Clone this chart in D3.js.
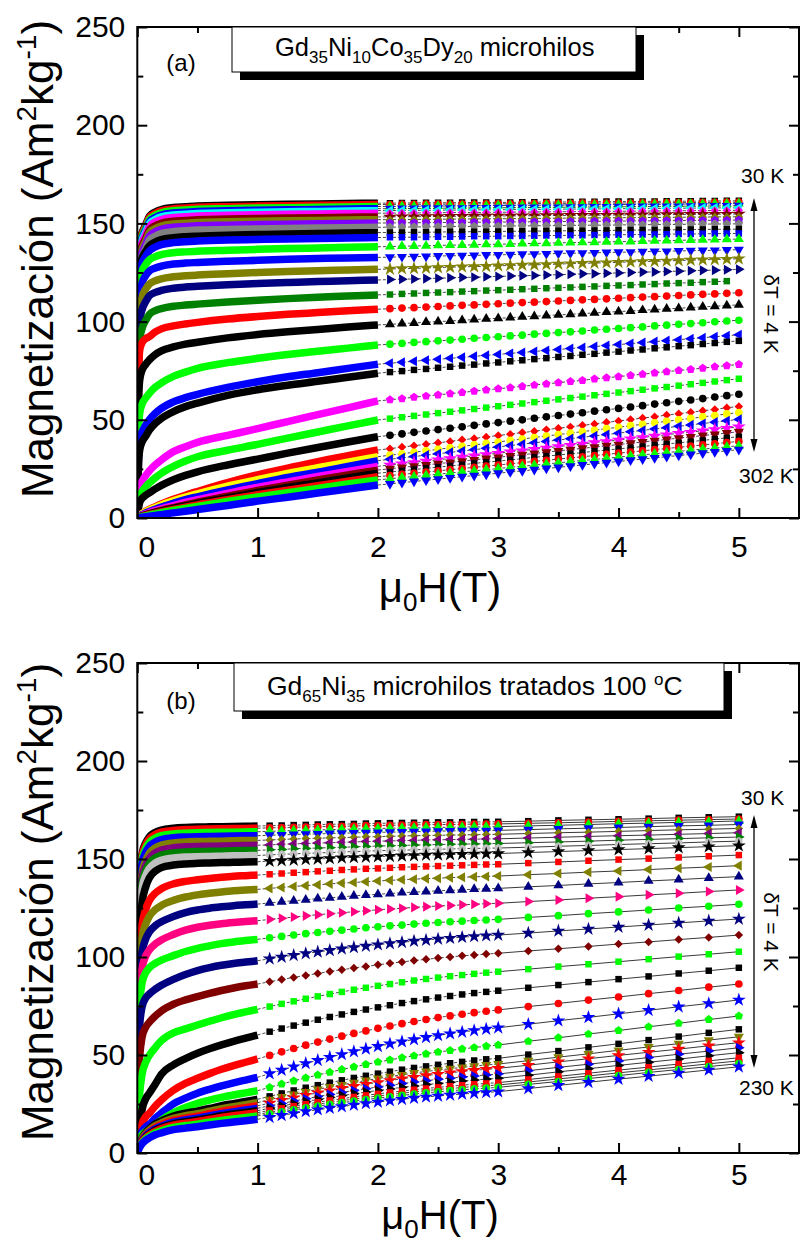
<!DOCTYPE html>
<html>
<head>
<meta charset="utf-8">
<script src="https://cdn.jsdelivr.net/npm/d3@7"></script>
<style>
  body { margin: 0; background: #fff; }
  text { font-family: "Liberation Sans", Arial, sans-serif; }
</style>
</head>
<body>
<svg id="chart"></svg>
<script>
const svg_w = 801, svg_h = 1243;

// ---- panel (a): Gd35Ni10Co35Dy20, 30 K .. 302 K ----
const fieldsLowA = [0, 0.01, 0.02, 0.04, 0.07, 0.1, 0.15, 0.2, 0.3, 0.4, 0.5, 0.75, 1, 1.25, 1.5, 1.75, 2];
const fieldsHighA = [2.1, 2.2, 2.3, 2.4, 2.5, 2.6, 2.7, 2.8, 2.9, 3.0, 3.1, 3.2, 3.3, 3.4, 3.5, 3.6, 3.7, 3.8, 3.9, 4.0, 4.1, 4.2, 4.3, 4.4, 4.5, 4.6, 4.7, 4.8, 4.9, 5.0];
const colorsA = ["#000000","#ff0000","#00ff00","#0000ff","#00ffff","#ff00ff","#800000","#808000","#8000ff","#808080","#000000","#0000ff","#00ff00","#0000ff","#808000","#000080","#008000","#ff0000","#000000","#00ff00","#0000ff","#000000","#ff00ff","#00ff00","#000000","#ff0000","#ffff00","#0000ff","#ff00ff","#800000","#000000","#ff0000","#00ff00","#0000ff"];
const shapesA = ["square","circle","up","down","left","diamond","star","diamond","hexagon","pentagon","square","square","up","down","star","right","square","circle","up","circle","left","square","pentagon","square","circle","diamond","circle","left","star","down","square","circle","up","down"];
const magLowA = [
  [0,125.3,141.3,145.3,149.3,153.6,155.8,157.1,158.1,158.5,158.9,159.2,159.5,159.7,159.9,160.1,160.3],
  [0,124.6,140.6,144.6,148.6,152.9,155.1,156.4,157.4,157.8,158.2,158.5,158.8,159.0,159.2,159.4,159.6],
  [0,123.6,139.6,143.6,147.6,151.9,154.1,155.4,156.4,156.8,157.2,157.5,157.8,158.0,158.2,158.4,158.6],
  [0,122.5,138.5,142.5,146.5,150.8,153.0,154.3,155.3,155.7,156.1,156.4,156.7,156.9,157.1,157.3,157.5],
  [0,121.5,137.5,141.5,145.5,149.8,152.0,153.3,154.3,154.7,155.1,155.4,155.7,155.9,156.1,156.3,156.5],
  [0,120.2,136.2,140.2,144.2,148.5,150.7,152.0,153.0,153.4,153.8,154.1,154.4,154.6,154.8,155.0,155.2],
  [0,118.3,134.3,138.3,142.3,146.6,148.8,150.1,151.1,151.5,151.9,152.2,152.5,152.7,152.9,153.1,153.3],
  [0,116.9,132.9,136.9,140.9,145.2,147.4,148.7,149.7,150.1,150.5,150.8,151.1,151.3,151.5,151.7,151.9],
  [0,115.2,131.2,135.2,139.2,143.5,145.7,147.0,148.0,148.4,148.8,149.1,149.4,149.6,149.8,150.0,150.2],
  [0,113.0,129.0,133.0,137.0,141.3,143.5,144.8,145.8,146.2,146.6,146.9,147.2,147.4,147.6,147.8,148.0],
  [0,112.3,127.3,132.3,135.8,138.5,140.5,141.7,142.7,143.2,143.5,144.0,144.3,144.6,144.8,145.1,145.3],
  [0,109.8,124.8,129.8,133.3,136.0,138.0,139.2,140.2,140.7,141.0,141.5,141.8,142.1,142.3,142.6,142.8],
  [0,105.1,120.1,125.6,129.1,131.4,133.1,134.1,135.1,135.5,135.8,136.3,136.8,137.2,137.5,137.8,138.1],
  [0,98.7,113.7,119.7,123.4,125.7,127.3,128.3,129.3,129.8,130.1,130.7,131.2,131.7,132.1,132.4,132.7],
  [0,90.6,106.6,112.6,116.6,119.1,120.8,121.8,122.8,123.3,123.7,124.4,125.0,125.5,125.9,126.3,126.6],
  [0,83.2,100.2,106.2,110.2,113.2,114.9,115.9,117.0,117.6,118.0,118.8,119.4,119.9,120.4,120.8,121.2],
  [0,73.6,90.6,96.6,100.6,103.6,105.6,106.6,107.8,108.4,108.9,110.0,110.9,111.7,112.4,113.0,113.6],
  [0,71.3,85.3,89.3,91.3,92.3,94.8,96.3,97.8,98.8,99.6,101.3,102.6,103.7,104.6,105.5,106.3],
  [0,58.3,70.3,75.3,78.3,80.5,83.3,85.1,87.1,88.5,89.5,91.7,93.4,94.8,96.0,97.2,98.3],
  [0,43.1,53.3,58.1,61.1,63.5,66.6,68.8,72.1,74.3,76.2,79.1,81.3,83.2,84.9,86.5,88.1],
  [0,30.3,40.3,43.8,47.3,50.0,53.3,55.8,59.1,61.3,63.0,66.5,69.4,71.9,74.0,76.2,78.3],
  [0,26.7,34.7,38.7,41.7,44.7,48.2,50.7,54.2,56.7,58.5,62.4,65.3,67.6,69.6,71.7,73.7],
  [0,9.6,15.0,18.6,21.6,24.0,27.1,29.6,33.8,36.3,38.5,42.1,45.5,49.1,52.6,56.1,59.6],
  [0,6.5,10.8,13.5,16.0,17.8,20.5,22.8,26.3,29.0,31.2,34.5,37.5,40.7,43.8,46.9,49.9],
  [0,5.0,8.0,10.0,11.6,12.8,14.8,16.6,19.5,21.7,23.5,27.0,30.0,33.0,35.9,38.7,41.4],
  [0,0.9,1.4,2.3,3.4,4.4,5.8,7.1,9.5,11.6,13.5,18.0,22.0,25.4,28.7,31.7,34.6],
  [0,0.8,1.3,2.2,3.2,4.1,5.4,6.6,8.7,10.6,12.3,16.2,19.5,22.7,25.6,28.4,31.2],
  [0,0.6,1.0,1.7,2.6,3.3,4.5,5.6,7.5,9.3,10.8,14.3,17.5,20.6,23.3,26.3,29.2],
  [0,0.5,0.8,1.4,2.1,2.8,3.8,4.7,6.3,7.9,9.3,12.5,15.6,18.4,21.1,23.7,26.3],
  [0,0.4,0.6,1.1,1.7,2.2,3.1,3.9,5.3,6.7,8.0,11.1,14.0,16.7,19.4,21.9,24.4],
  [0,0.3,0.6,1.0,1.5,2.0,2.8,3.5,4.9,6.1,7.4,10.2,13.0,15.5,17.9,20.4,22.8],
  [0,0.3,0.5,0.8,1.3,1.8,2.5,3.1,4.4,5.5,6.7,9.3,11.8,14.2,16.4,18.7,21.0],
  [0,0.2,0.4,0.7,1.1,1.5,2.1,2.7,3.8,4.9,5.9,8.4,10.7,12.9,15.1,17.3,19.4],
  [0,0.1,0.2,0.4,0.6,0.9,1.3,1.7,2.6,3.4,4.3,6.4,8.6,10.6,12.7,14.8,16.8]
];
const magHighA = [
  [160.3,160.4,160.4,160.5,160.5,160.5,160.6,160.6,160.7,160.7,160.7,160.8,160.8,160.9,160.9,160.9,161.0,161.0,161.1,161.1,161.1,161.2,161.2,161.3,161.3,161.3,161.4,161.4,161.5,161.5],
  [159.6,159.7,159.7,159.8,159.8,159.8,159.9,159.9,160.0,160.0,160.0,160.1,160.1,160.2,160.2,160.2,160.3,160.3,160.4,160.4,160.4,160.5,160.5,160.6,160.6,160.6,160.7,160.7,160.8,160.8],
  [158.6,158.7,158.7,158.8,158.8,158.9,158.9,159.0,159.0,159.1,159.1,159.2,159.2,159.3,159.3,159.4,159.4,159.5,159.5,159.6,159.6,159.7,159.7,159.8,159.8,159.9,159.9,160.0,160.0,160.1],
  [157.5,157.6,157.6,157.7,157.7,157.8,157.8,157.9,157.9,158.0,158.0,158.1,158.1,158.2,158.2,158.3,158.3,158.4,158.4,158.5,158.5,158.6,158.6,158.7,158.7,158.8,158.8,158.9,158.9,159.0],
  [156.5,156.6,156.6,156.7,156.7,156.8,156.8,156.9,156.9,157.0,157.0,157.1,157.1,157.2,157.2,157.3,157.3,157.4,157.4,157.5,157.5,157.6,157.6,157.7,157.7,157.8,157.8,157.9,157.9,158.0],
  [155.2,155.3,155.3,155.4,155.4,155.5,155.5,155.6,155.6,155.7,155.7,155.8,155.8,155.9,155.9,156.0,156.0,156.1,156.1,156.2,156.2,156.3,156.3,156.4,156.4,156.5,156.5,156.6,156.6,156.7],
  [153.3,153.4,153.4,153.5,153.5,153.6,153.6,153.7,153.7,153.8,153.8,153.9,153.9,154.0,154.0,154.1,154.1,154.2,154.2,154.3,154.3,154.4,154.4,154.5,154.5,154.6,154.6,154.7,154.7,154.8],
  [151.9,152.0,152.0,152.1,152.1,152.2,152.2,152.3,152.3,152.4,152.4,152.5,152.5,152.6,152.6,152.7,152.7,152.8,152.8,152.9,152.9,153.0,153.0,153.1,153.1,153.2,153.2,153.3,153.3,153.4],
  [150.2,150.3,150.3,150.4,150.4,150.5,150.5,150.6,150.6,150.7,150.7,150.8,150.8,150.9,150.9,151.0,151.0,151.1,151.1,151.2,151.2,151.3,151.3,151.4,151.4,151.5,151.5,151.6,151.6,151.7],
  [148.1,148.1,148.2,148.2,148.3,148.4,148.4,148.5,148.5,148.6,148.7,148.7,148.8,148.8,148.9,149.0,149.0,149.1,149.1,149.2,149.3,149.3,149.4,149.4,149.5,149.6,149.6,149.7,149.7,149.8],
  [145.4,145.4,145.5,145.5,145.6,145.7,145.7,145.8,145.8,145.9,146.0,146.0,146.1,146.1,146.2,146.3,146.3,146.4,146.4,146.5,146.6,146.6,146.7,146.7,146.8,146.9,146.9,147.0,147.0,147.1],
  [142.9,142.9,143.0,143.1,143.2,143.2,143.3,143.4,143.4,143.5,143.6,143.6,143.7,143.8,143.9,143.9,144.0,144.1,144.1,144.2,144.3,144.3,144.4,144.5,144.6,144.6,144.7,144.8,144.8,144.9],
  [138.2,138.4,138.5,138.6,138.8,138.9,139.0,139.1,139.3,139.4,139.5,139.7,139.8,139.9,140.1,140.2,140.3,140.4,140.6,140.7,140.8,141.0,141.1,141.2,141.4,141.5,141.6,141.7,141.9,142.0],
  [132.8,133.0,133.1,133.2,133.4,133.5,133.6,133.7,133.9,134.0,134.1,134.3,134.4,134.5,134.7,134.8,134.9,135.0,135.2,135.3,135.4,135.6,135.7,135.8,136.0,136.1,136.2,136.3,136.5,136.6],
  [126.8,127.0,127.1,127.3,127.5,127.7,127.9,128.0,128.2,128.4,128.6,128.8,128.9,129.1,129.3,129.5,129.7,129.8,130.0,130.2,130.4,130.6,130.7,130.9,131.1,131.3,131.5,131.6,131.8,132.0],
  [121.4,121.6,121.7,121.9,122.1,122.3,122.5,122.6,122.8,123.0,123.2,123.4,123.5,123.7,123.9,124.1,124.3,124.4,124.6,124.8,125.0,125.2,125.3,125.5,125.7,125.9,126.1,126.2,126.4,126.6],
  [113.8,114.1,114.3,114.6,114.8,115.0,115.3,115.5,115.8,116.0,116.2,116.5,116.7,117.0,117.2,117.4,117.7,117.9,118.2,118.4,118.6,118.9,119.1,119.4,119.6,119.8,120.1,120.3,120.6],
  [106.6,106.9,107.1,107.4,107.7,108.0,108.3,108.5,108.8,109.1,109.4,109.7,109.9,110.2,110.5,110.8,111.1,111.3,111.6,111.9,112.2,112.5,112.7,113.0,113.3,113.6,113.9,114.1,114.4,114.7],
  [98.6,99.0,99.3,99.7,100.0,100.3,100.7,101.0,101.4,101.7,102.0,102.4,102.7,103.1,103.4,103.7,104.1,104.4,104.8,105.1,105.4,105.8,106.1,106.5,106.8,107.1,107.5,107.8,108.2,108.5],
  [88.5,88.9,89.4,89.8,90.2,90.6,91.0,91.5,91.9,92.3,92.7,93.1,93.6,94.0,94.4,94.8,95.2,95.7,96.1,96.5,96.9,97.3,97.8,98.2,98.6,99.0,99.4,99.9,100.3,100.7],
  [78.8,79.3,79.8,80.3,80.8,81.3,81.8,82.3,82.8,83.3,83.8,84.3,84.8,85.3,85.8,86.3,86.8,87.3,87.8,88.3,88.8,89.3,89.8,90.3,90.8,91.3,91.8,92.3,92.8,93.3],
  [74.3,74.8,75.4,75.9,76.5,77.0,77.6,78.1,78.7,79.2,79.8,80.3,80.9,81.4,82.0,82.5,83.1,83.6,84.2,84.7,85.3,85.8,86.4,86.9,87.5,88.0,88.6,89.1,89.7,90.2],
  [60.2,60.8,61.5,62.1,62.7,63.3,63.9,64.6,65.2,65.8,66.4,67.0,67.7,68.3,68.9,69.5,70.1,70.8,71.4,72.0,72.6,73.2,73.9,74.5,75.1,75.7,76.3,77.0,77.6,78.2],
  [50.6,51.3,52.0,52.7,53.4,54.1,54.8,55.5,56.2,56.9,57.6,58.3,59.0,59.7,60.4,61.1,61.8,62.5,63.2,63.9,64.6,65.3,66.0,66.7,67.4,68.1,68.8,69.5,70.2,70.9],
  [42.1,42.8,43.6,44.3,45.0,45.7,46.4,47.2,47.9,48.6,49.3,50.0,50.8,51.5,52.2,52.9,53.6,54.4,55.1,55.8,56.5,57.2,58.0,58.7,59.4,60.1,60.8,61.6,62.3,63.0],
  [35.3,36.1,36.8,37.6,38.3,39.0,39.8,40.5,41.3,42.0,42.7,43.5,44.2,45.0,45.7,46.4,47.2,47.9,48.7,49.4,50.1,50.9,51.6,52.4,53.1,53.8,54.6,55.3,56.1,56.8],
  [32.0,32.7,33.5,34.2,35.0,35.7,36.5,37.2,38.0,38.7,39.5,40.2,41.0,41.7,42.5,43.2,44.0,44.7,45.5,46.2,47.0,47.7,48.5,49.2,50.0,50.7,51.5,52.2,53.0,53.7],
  [29.9,30.6,31.3,32.0,32.7,33.4,34.1,34.8,35.5,36.2,36.9,37.6,38.3,39.0,39.7,40.4,41.1,41.8,42.5,43.2,43.9,44.6,45.3,46.0,46.7,47.4,48.1,48.8,49.5,50.2],
  [27.0,27.6,28.3,29.0,29.7,30.3,31.0,31.7,32.3,33.0,33.7,34.3,35.0,35.7,36.4,37.0,37.7,38.4,39.0,39.7,40.4,41.0,41.7,42.4,43.1,43.7,44.4,45.1,45.7,46.4],
  [25.1,25.7,26.4,27.0,27.7,28.3,29.0,29.6,30.3,30.9,31.6,32.2,32.9,33.5,34.2,34.8,35.5,36.1,36.8,37.4,38.1,38.7,39.4,40.0,40.7,41.3,42.0,42.6,43.3,43.9],
  [23.4,24.0,24.7,25.3,25.9,26.5,27.1,27.8,28.4,29.0,29.6,30.2,30.9,31.5,32.1,32.7,33.3,34.0,34.6,35.2,35.8,36.4,37.1,37.7,38.3,38.9,39.5,40.2,40.8,41.4],
  [21.6,22.2,22.8,23.4,24.0,24.6,25.2,25.8,26.4,27.0,27.6,28.2,28.8,29.4,30.0,30.6,31.2,31.8,32.4,33.0,33.6,34.2,34.8,35.4,36.0,36.6,37.2,37.8,38.4,39.0],
  [20.0,20.6,21.1,21.7,22.3,22.9,23.5,24.0,24.6,25.2,25.8,26.4,26.9,27.5,28.1,28.7,29.3,29.8,30.4,31.0,31.6,32.2,32.7,33.3,33.9,34.5,35.1,35.6,36.2,36.8],
  [17.4,18.0,18.6,19.2,19.8,20.4,21.0,21.6,22.2,22.8,23.4,24.0,24.6,25.2,25.8,26.4,27.0,27.6,28.2,28.8,29.4,30.0,30.6,31.2,31.8,32.4,33.0,33.6,34.2,34.8]
];

// ---- panel (b): Gd65Ni35 tratado 100 C, 30 K .. 230 K ----
const fieldsLowB = [0, 0.01, 0.02, 0.04, 0.07, 0.1, 0.15, 0.2, 0.3, 0.4, 0.5, 0.6, 0.7, 0.8, 0.9, 1.0];
const fieldsMidB = [1.1, 1.2, 1.3, 1.4, 1.5, 1.6, 1.7, 1.8, 1.9, 2.0, 2.1, 2.2, 2.3, 2.4, 2.5, 2.6, 2.7, 2.8, 2.9, 3.0];
const fieldsHighB = [3.25, 3.5, 3.75, 4.0, 4.25, 4.5, 4.75, 5.0];
const colorsB = ["#000000","#ff0000","#00ff00","#0000ff","#808000","#800080","#008000","#c0c0c0","#000000","#ff0000","#808000","#000080","#ff0080","#00ff00","#000080","#800000","#00ff00","#000000","#ff0000","#0000ff","#00ff00","#000000","#808000","#ff0000","#0000ff","#000000","#ff0000","#ff0000","#00ff00","#0000ff"];
const shapesB = ["square","circle","up","down","diamond","left","right","hexagon","star","square","left","up","right","circle","star","diamond","square","square","circle","star","pentagon","square","down","star","right","right","square","circle","circle","star"];
const magLowB = [
  [0,126.8,142.8,152.8,158.3,161.3,163.6,164.8,165.7,166.1,166.3,166.4,166.5,166.6,166.7,166.8],
  [0,125.7,141.7,151.7,157.2,160.2,162.5,163.7,164.6,165.0,165.2,165.3,165.4,165.5,165.6,165.7],
  [0,123.9,139.9,149.9,155.4,158.4,160.7,161.9,162.8,163.2,163.4,163.5,163.6,163.7,163.8,163.9],
  [0,121.9,137.9,147.9,153.4,156.4,158.7,159.9,160.8,161.2,161.4,161.5,161.6,161.7,161.8,161.9],
  [0,111.5,130.7,142.7,149.3,152.9,155.7,157.1,158.2,158.7,158.9,159.0,159.1,159.3,159.4,159.5],
  [0,109.0,128.2,140.2,146.8,150.4,153.2,154.6,155.7,156.2,156.4,156.5,156.6,156.8,156.9,157.0],
  [0,106.4,125.6,137.6,144.2,147.8,150.6,152.0,153.1,153.6,153.8,153.9,154.0,154.2,154.3,154.4],
  [0,103.8,123.0,135.0,141.6,145.2,148.0,149.4,150.5,151.0,151.2,151.3,151.4,151.6,151.7,151.8],
  [0,93.6,112.6,127.6,135.8,140.3,143.8,145.6,146.9,147.5,147.8,148.0,148.2,148.3,148.5,148.6],
  [0,86.8,105.8,116.8,124.3,128.8,132.6,134.8,137.3,138.6,139.4,140.1,140.7,141.2,141.5,141.8],
  [0,82.5,99.5,110.0,116.8,120.7,124.2,126.3,128.9,130.6,131.7,132.5,133.2,133.8,134.2,134.5],
  [0,76.0,93.0,102.7,109.2,112.7,116.0,118.0,120.7,122.7,124.0,124.9,125.6,126.2,126.6,127.0],
  [0,68.5,85.5,94.5,100.5,103.6,106.7,108.7,111.5,113.7,115.2,116.2,117.0,117.6,118.1,118.5],
  [0,67.0,77.0,87.0,92.0,94.5,96.8,98.4,100.7,102.8,104.4,105.7,106.8,107.7,108.4,109.0],
  [0,53.1,65.1,74.6,79.1,81.1,83.6,85.6,88.6,91.1,93.1,94.6,95.8,96.7,97.4,98.1],
  [0,38.2,49.2,59.2,64.2,66.7,69.9,72.5,75.9,78.1,79.8,81.4,82.9,84.2,85.3,86.2],
  [0,21.3,30.6,40.3,46.3,49.8,53.8,57.3,61.3,63.3,65.3,67.2,69.0,70.6,72.0,73.3],
  [0,8.2,14.2,22.2,27.7,30.5,35.2,40.2,45.0,48.2,50.9,53.2,55.2,57.0,58.6,60.2],
  [0,6.0,10.0,15.0,18.5,20.3,24.0,27.0,32.0,35.5,38.1,40.5,42.7,44.6,46.3,48.0],
  [0,4.6,8.1,11.1,13.3,14.6,17.8,20.3,25.1,28.0,30.5,32.5,34.3,35.8,37.2,38.6],
  [0,3.8,6.8,9.3,10.9,12.2,14.6,16.8,20.5,23.2,25.4,27.0,28.4,29.6,30.7,31.8],
  [0,2.7,4.7,7.7,10.4,12.3,14.8,16.4,18.9,20.3,21.4,22.7,24.1,25.2,26.3,27.4],
  [0,2.6,4.4,7.2,9.8,11.6,13.9,15.4,17.7,19.0,20.0,21.3,22.6,23.6,24.7,25.7],
  [0,2.4,4.1,6.7,9.2,10.8,13.0,14.5,16.6,17.8,18.8,20.0,21.2,22.2,23.1,24.1],
  [0,2.3,3.9,6.4,8.7,10.3,12.3,13.7,15.7,16.9,17.8,18.9,20.1,21.0,21.9,22.8],
  [0,2.2,3.7,6.0,8.2,9.7,11.7,13.0,14.9,16.0,16.8,17.9,19.0,19.9,20.7,21.6],
  [0,2.1,3.5,5.8,7.8,9.3,11.1,12.4,14.2,15.2,16.1,17.1,18.1,19.0,19.8,20.6],
  [0,2.0,3.3,5.5,7.5,8.9,10.6,11.8,13.6,14.6,15.4,16.4,17.3,18.1,18.9,19.7],
  [0,1.9,3.2,5.3,7.2,8.5,10.2,11.3,13.0,14.0,14.7,15.7,16.6,17.4,18.1,18.9],
  [0,1.7,2.9,4.8,6.5,7.7,9.3,10.3,11.9,12.7,13.4,14.3,15.1,15.8,16.5,17.2]
];
const magMidB = [
  [167.0,167.1,167.3,167.4,167.6,167.7,167.8,167.9,168.1,168.2,168.3,168.4,168.5,168.6,168.7,168.7,168.8,168.9,168.9,169.0],
  [165.9,166.0,166.2,166.3,166.5,166.6,166.7,166.8,167.0,167.1,167.2,167.3,167.4,167.5,167.6,167.6,167.7,167.8,167.8,167.9],
  [164.1,164.3,164.5,164.6,164.8,165.0,165.1,165.3,165.4,165.5,165.7,165.8,165.9,166.0,166.1,166.2,166.3,166.4,166.4,166.5],
  [162.1,162.3,162.5,162.7,162.8,163.0,163.2,163.3,163.5,163.6,163.7,163.8,164.0,164.1,164.2,164.3,164.4,164.5,164.5,164.6],
  [159.7,160.0,160.2,160.4,160.6,160.8,160.9,161.1,161.3,161.4,161.6,161.7,161.9,162.0,162.1,162.2,162.3,162.4,162.5,162.6],
  [157.2,157.5,157.7,157.9,158.1,158.3,158.5,158.7,158.9,159.1,159.2,159.4,159.5,159.7,159.8,159.9,160.0,160.1,160.2,160.3],
  [154.7,154.9,155.2,155.4,155.6,155.8,156.0,156.2,156.4,156.6,156.8,156.9,157.1,157.2,157.4,157.5,157.6,157.7,157.8,157.9],
  [152.1,152.4,152.6,152.9,153.1,153.3,153.6,153.8,154.0,154.2,154.4,154.5,154.7,154.9,155.0,155.1,155.3,155.4,155.5,155.6],
  [148.9,149.2,149.5,149.8,150.0,150.3,150.6,150.8,151.0,151.2,151.4,151.6,151.8,152.0,152.1,152.3,152.4,152.6,152.7,152.8],
  [142.2,142.6,143.0,143.3,143.7,144.0,144.4,144.7,145.0,145.2,145.5,145.8,146.0,146.2,146.4,146.6,146.8,147.0,147.2,147.3],
  [135.0,135.5,136.0,136.4,136.8,137.3,137.7,138.0,138.4,138.8,139.1,139.4,139.7,140.0,140.2,140.5,140.7,140.9,141.1,141.3],
  [127.6,128.2,128.7,129.2,129.8,130.2,130.7,131.2,131.6,132.0,132.4,132.8,133.1,133.4,133.8,134.0,134.3,134.6,134.8,135.0],
  [119.2,119.8,120.4,121.0,121.6,122.1,122.6,123.1,123.6,124.1,124.5,124.9,125.3,125.7,126.0,126.3,126.6,126.9,127.2,127.4],
  [109.8,110.5,111.2,111.9,112.5,113.1,113.7,114.3,114.9,115.4,115.9,116.3,116.8,117.2,117.6,118.0,118.3,118.6,118.9,119.2],
  [99.1,100.0,100.9,101.8,102.6,103.4,104.2,104.9,105.6,106.3,106.9,107.5,108.1,108.6,109.2,109.6,110.1,110.5,110.9,111.2],
  [87.4,88.5,89.6,90.6,91.6,92.6,93.5,94.4,95.2,96.0,96.8,97.5,98.2,98.8,99.5,100.0,100.6,101.0,101.5,101.9],
  [74.7,76.1,77.4,78.7,79.9,81.1,82.2,83.3,84.3,85.3,86.2,87.1,88.0,88.8,89.5,90.2,90.8,91.4,92.0,92.5],
  [61.9,63.5,65.0,66.5,68.0,69.4,70.7,72.0,73.2,74.3,75.4,76.5,77.5,78.4,79.3,80.1,80.9,81.6,82.2,82.8],
  [49.8,51.6,53.3,55.0,56.6,58.1,59.6,61.0,62.3,63.6,64.8,66.0,67.1,68.1,69.1,70.0,70.8,71.6,72.3,73.0],
  [40.5,42.3,44.0,45.7,47.3,48.9,50.3,51.8,53.1,54.4,55.7,56.8,57.9,59.0,60.0,60.9,61.7,62.5,63.2,63.9],
  [33.5,35.2,36.8,38.3,39.8,41.2,42.6,43.9,45.2,46.4,47.5,48.6,49.6,50.6,51.5,52.3,53.1,53.8,54.5,55.1],
  [28.9,30.4,31.9,33.3,34.6,35.9,37.1,38.3,39.4,40.5,41.5,42.5,43.4,44.2,45.0,45.8,46.5,47.2,47.8,48.3],
  [27.2,28.6,29.9,31.2,32.5,33.7,34.8,35.9,37.0,38.0,39.0,39.9,40.8,41.6,42.3,43.0,43.7,44.3,44.9,45.4],
  [25.5,26.9,28.2,29.5,30.7,31.8,33.0,34.0,35.1,36.0,37.0,37.9,38.7,39.5,40.2,40.9,41.6,42.2,42.7,43.2],
  [24.1,25.3,26.5,27.7,28.8,29.9,30.9,31.9,32.8,33.7,34.6,35.4,36.2,36.9,37.6,38.2,38.8,39.3,39.8,40.3],
  [22.8,24.0,25.1,26.2,27.3,28.3,29.3,30.2,31.1,31.9,32.7,33.5,34.2,34.9,35.5,36.1,36.7,37.2,37.7,38.1],
  [21.7,22.8,23.9,24.9,25.9,26.8,27.7,28.6,29.4,30.2,30.9,31.6,32.3,32.9,33.5,34.1,34.6,35.1,35.5,35.9],
  [20.8,21.9,22.9,23.9,24.9,25.8,26.7,27.5,28.3,29.1,29.8,30.5,31.2,31.8,32.4,32.9,33.4,33.9,34.3,34.7],
  [20.0,21.0,22.0,23.0,23.9,24.8,25.7,26.5,27.3,28.0,28.7,29.4,30.1,30.7,31.2,31.8,32.2,32.7,33.1,33.5],
  [18.2,19.2,20.2,21.2,22.1,22.9,23.7,24.5,25.3,26.0,26.7,27.4,28.0,28.6,29.1,29.6,30.1,30.5,30.9,31.3]
];
const magHighB = [
  [169.3,169.7,170.0,170.3,170.6,171.0,171.3,171.6],
  [168.2,168.5,168.8,169.2,169.5,169.8,170.1,170.4],
  [166.9,167.2,167.6,168.0,168.3,168.7,169.0,169.4],
  [165.0,165.4,165.7,166.1,166.5,166.9,167.2,167.6],
  [163.0,163.4,163.7,164.1,164.5,164.9,165.2,165.6],
  [160.7,161.1,161.5,161.9,162.2,162.6,163.0,163.4],
  [158.3,158.7,159.1,159.6,160.0,160.4,160.8,161.2],
  [156.0,156.5,156.9,157.4,157.8,158.2,158.7,159.1],
  [153.3,153.8,154.3,154.8,155.3,155.8,156.3,156.8],
  [147.9,148.5,149.1,149.7,150.2,150.8,151.4,152.0],
  [142.0,142.6,143.3,143.9,144.6,145.3,145.9,146.6],
  [135.8,136.5,137.3,138.0,138.8,139.5,140.3,141.0],
  [128.3,129.1,130.0,130.8,131.7,132.5,133.4,134.2],
  [120.2,121.1,122.1,123.0,124.0,125.0,125.9,126.9],
  [112.2,113.3,114.3,115.3,116.3,117.4,118.4,119.4],
  [103.1,104.2,105.4,106.6,107.7,108.9,110.0,111.2],
  [93.8,95.1,96.3,97.6,98.9,100.2,101.4,102.7],
  [84.3,85.7,87.2,88.7,90.1,91.6,93.0,94.5],
  [74.7,76.3,78.0,79.6,81.3,82.9,84.6,86.2],
  [65.7,67.5,69.2,71.0,72.8,74.6,76.3,78.1],
  [57.0,58.8,60.7,62.5,64.4,66.2,68.1,69.9],
  [50.2,52.0,53.9,55.7,57.6,59.4,61.3,63.1],
  [47.1,48.9,50.6,52.4,54.1,55.8,57.6,59.3],
  [44.8,46.5,48.1,49.8,51.4,53.0,54.7,56.3],
  [42.0,43.7,45.3,47.0,48.7,50.4,52.0,53.7],
  [39.7,41.4,43.0,44.7,46.3,47.9,49.6,51.2],
  [37.5,39.1,40.7,42.3,43.8,45.4,47.0,48.6],
  [36.2,37.8,39.3,40.9,42.4,43.9,45.5,47.0],
  [35.0,36.5,38.0,39.5,41.1,42.6,44.1,45.6],
  [32.9,34.5,36.1,37.7,39.2,40.8,42.4,44.0]
];

// axis ticks
const xTicks = [0, 1, 2, 3, 4, 5];
const xMinor = [0.5, 1.5, 2.5, 3.5, 4.5];
const yTicks = [0, 50, 100, 150, 200, 250];
const yMinor = [25, 75, 125, 175, 225];

const svg = d3.select("#chart").attr("width", svg_w).attr("height", svg_h);
svg.append("rect").attr("width", svg_w).attr("height", svg_h).attr("fill", "#fff");

// marker shapes (Origin style)
function polygon(n) {
  return {draw(ctx, size) {
    const r = Math.sqrt(2 * size / (n * Math.sin(2 * Math.PI / n)));
    for (let i = 0; i < n; i++) {
      const a = -Math.PI / 2 + i * 2 * Math.PI / n;
      if (i) ctx.lineTo(r * Math.cos(a), r * Math.sin(a));
      else ctx.moveTo(r * Math.cos(a), r * Math.sin(a));
    }
    ctx.closePath();
  }};
}
const shapeType = {square: d3.symbolSquare, circle: d3.symbolCircle, up: d3.symbolTriangle, down: d3.symbolTriangle,
  left: d3.symbolTriangle, right: d3.symbolTriangle, diamond: d3.symbolSquare, star: d3.symbolStar,
  pentagon: polygon(5), hexagon: polygon(6)};
const shapeRot = {down: 180, left: -90, right: 90, diamond: 45};
const shapeSize = {square: 42, circle: 46, up: 44, down: 44, left: 44, right: 44, diamond: 36, star: 60, pentagon: 46, hexagon: 46};

const x_left = 137.3, x_right = 799;

function drawPanel(p) {
  const x = d3.scaleLinear().domain([0, 5.5]).range([x_left, x_right]);
  const y = d3.scaleLinear().domain([0, 250]).range([p.bottom, p.top]);

  svg.append("clipPath").attr("id", "clip" + p.id)
    .append("rect").attr("x", x_left).attr("y", p.top)
    .attr("width", x_right - x_left).attr("height", p.bottom - p.top);

  const plot = svg.append("g").attr("clip-path", `url(#clip${p.id})`);
  const band = d3.line().x(d => x(d[0])).y(d => y(d[1])).curve(d3.curveMonotoneX);
  const straight = d3.line().x(d => x(d[0])).y(d => y(d[1]));

  p.series.forEach(s => {
    const g = plot.append("g");
    // dense low-field measurement: markers overlap into a thick band
    g.append("path").datum(s.low).attr("d", band)
      .attr("fill", "none").attr("stroke", s.color).attr("stroke-width", 7.5)
      .attr("stroke-linejoin", "round");
    g.append("path").datum(s.dashed).attr("d", straight)
      .attr("fill", "none").attr("stroke", "#333").attr("stroke-width", 0.9)
      .attr("stroke-dasharray", "3,2");
    if (s.solid.length)
      g.append("path").datum(s.solid).attr("d", straight)
        .attr("fill", "none").attr("stroke", "#222").attr("stroke-width", 0.9);
    g.selectAll("path.mk").data(s.marks).join("path").attr("class", "mk")
      .attr("transform", d => `translate(${x(d[0])},${y(d[1])}) rotate(${shapeRot[s.shape] || 0})`)
      .attr("d", d3.symbol(shapeType[s.shape], shapeSize[s.shape]))
      .attr("fill", s.color);
  });

  // axes: ticks point inwards on all four sides
  const styleAxis = a => {
    a.select(".domain").remove();
    a.selectAll("line").attr("stroke", "#000").attr("stroke-width", 2);
    a.attr("font-size", 30).attr("font-family", "Liberation Sans, Arial, sans-serif");
    a.selectAll("text").attr("fill", "#000");
  };
  svg.append("g").attr("transform", `translate(0,${p.bottom})`)
    .call(d3.axisBottom(x).tickValues(xTicks).tickSize(-10).tickPadding(p.xPad).tickFormat(d3.format("d")))
    .call(styleAxis)
    .call(a => a.selectAll("text").filter(d => d === 0).attr("dx", 9));
  svg.append("g").attr("transform", `translate(0,${p.bottom})`)
    .call(d3.axisBottom(x).tickValues(xMinor).tickSize(-6).tickFormat("")).call(styleAxis);
  svg.append("g").attr("transform", `translate(0,${p.top})`)
    .call(d3.axisTop(x).tickValues(xTicks).tickSize(-10).tickFormat("")).call(styleAxis);
  svg.append("g").attr("transform", `translate(0,${p.top})`)
    .call(d3.axisTop(x).tickValues(xMinor).tickSize(-6).tickFormat("")).call(styleAxis);
  svg.append("g").attr("transform", `translate(${x_left},0)`)
    .call(d3.axisLeft(y).tickValues(yTicks).tickSize(-10).tickPadding(12)).call(styleAxis);
  svg.append("g").attr("transform", `translate(${x_left},0)`)
    .call(d3.axisLeft(y).tickValues(yMinor).tickSize(-6).tickFormat("")).call(styleAxis);
  svg.append("g").attr("transform", `translate(${x_right},0)`)
    .call(d3.axisRight(y).tickValues(yTicks).tickSize(-10).tickFormat("")).call(styleAxis);
  svg.append("g").attr("transform", `translate(${x_right},0)`)
    .call(d3.axisRight(y).tickValues(yMinor).tickSize(-6).tickFormat("")).call(styleAxis);

  svg.append("rect").attr("x", x_left).attr("y", p.top)
    .attr("width", x_right - x_left).attr("height", p.bottom - p.top)
    .attr("fill", "none").attr("stroke", "#000").attr("stroke-width", 2);

  // axis titles
  const yl = svg.append("text").attr("transform", `translate(53,${p.yTitleY}) rotate(-90)`)
    .attr("text-anchor", "middle").attr("font-size", 44).attr("fill", "#000");
  yl.append("tspan").text("Magnetización (Am");
  yl.append("tspan").attr("dy", -17).attr("font-size", 28).text("2");
  yl.append("tspan").attr("dy", 17).text("kg");
  yl.append("tspan").attr("dy", -17).attr("font-size", 28).text("-1");
  yl.append("tspan").attr("dy", 17).text(")");

  const xl = svg.append("text").attr("x", 440).attr("y", p.xTitleY)
    .attr("text-anchor", "middle").attr("font-size", p.xTitleFs).attr("fill", "#000");
  xl.append("tspan").text("μ");
  xl.append("tspan").attr("dy", 9).attr("font-size", 26).text("0");
  xl.append("tspan").attr("dy", -9).text("H(T)");

  // panel letter
  svg.append("text").attr("x", 181).attr("y", p.top + p.letterDy).attr("text-anchor", "middle")
    .attr("font-size", 24).attr("fill", "#000").text(p.letter);

  // title box with drop shadow
  const b = p.box;
  svg.append("rect").attr("x", b.x + 8).attr("y", b.y + 8).attr("width", b.w).attr("height", b.h).attr("fill", "#000");
  svg.append("rect").attr("x", b.x).attr("y", b.y).attr("width", b.w).attr("height", b.h)
    .attr("fill", "#fff").attr("stroke", "#000").attr("stroke-width", 1);
  const t = svg.append("text").attr("x", b.tx).attr("y", b.ty).attr("font-size", b.fs).attr("fill", "#000");
  const small = Math.round(b.fs * 0.66);
  b.parts.forEach(([txt, kind]) => {
    const sp = t.append("tspan").text(txt);
    if (kind === "sub") sp.attr("font-size", small).attr("dy", 7);
    else if (kind === "sup") sp.attr("font-size", small).attr("dy", -10);
    else if (kind === "afterSub") sp.attr("dy", -7);
    else if (kind === "afterSup") sp.attr("dy", 10);
  });

  // temperature range arrow
  const ar = p.arrow;
  svg.append("line").attr("x1", 754).attr("x2", 754).attr("y1", ar.y1 + 8).attr("y2", ar.y2 - 8)
    .attr("stroke", "#000").attr("stroke-width", 1.3);
  svg.append("path").attr("d", `M754,${ar.y1} L750.5,${ar.y1 + 13} L757.5,${ar.y1 + 13} Z`).attr("fill", "#000");
  svg.append("path").attr("d", `M754,${ar.y2} L750.5,${ar.y2 - 13} L757.5,${ar.y2 - 13} Z`).attr("fill", "#000");
  svg.append("text").attr("x", 741).attr("y", ar.topLabelY).attr("font-size", 21).attr("fill", "#000").text("30 K");
  svg.append("text").attr("x", 739).attr("y", ar.botLabelY).attr("font-size", 21).attr("fill", "#000").text(ar.botLabel);
  svg.append("text").attr("transform", `translate(764,${ar.midY}) rotate(90)`).attr("text-anchor", "middle")
    .attr("font-size", 21).attr("fill", "#000").text("δT = 4 K");
}

function buildSeries(colors, shapes, lowF, low, parts) {
  return colors.map((c, i) => {
    const lowPts = lowF.map((h, j) => [h, low[i][j]]);
    const last = lowPts[lowPts.length - 1];
    const segs = parts.map(([fs, vals]) => vals[i].map((v, j) => [fs[j], v]));
    const dashed = [last].concat(segs[0]);
    const solid = segs.length > 1 ? [segs[0][segs[0].length - 1]].concat(segs[1]) : [];
    return {color: c, shape: shapes[i], low: lowPts, dashed, solid, marks: segs.flat()};
  });
}

drawPanel({
  id: "a", top: 27, bottom: 518, yTitleY: 259, xTitleY: 602, xTitleFs: 42, xPad: 18, letter: "(a)", letterDy: 44,
  series: buildSeries(colorsA, shapesA, fieldsLowA, magLowA, [[fieldsHighA, magHighA]]),
  box: {x: 232, y: 27, w: 404, h: 45, tx: 275, ty: 56, fs: 25.5,
        parts: [["Gd"], ["35", "sub"], ["Ni", "afterSub"], ["10", "sub"], ["Co", "afterSub"], ["35", "sub"],
                ["Dy", "afterSub"], ["20", "sub"], [" microhilos", "afterSub"]]},
  arrow: {y1: 198, y2: 452, topLabelY: 183, botLabelY: 483, botLabel: "302 K", midY: 314}
});

drawPanel({
  id: "b", top: 663, bottom: 1153, yTitleY: 902, xTitleY: 1229, xTitleFs: 40, xPad: 11, letter: "(b)", letterDy: 46,
  series: buildSeries(colorsB, shapesB, fieldsLowB, magLowB, [[fieldsMidB, magMidB], [fieldsHighB, magHighB]]),
  box: {x: 234, y: 663, w: 490, h: 48, tx: 267, ty: 695, fs: 26.5,
        parts: [["Gd"], ["65", "sub"], ["Ni", "afterSub"], ["35", "sub"], [" microhilos tratados 100 ", "afterSub"],
                ["o", "sup"], ["C", "afterSup"]]},
  arrow: {y1: 815, y2: 1068, topLabelY: 805, botLabelY: 1095, botLabel: "230 K", midY: 932}
});
</script>
</body>
</html>
